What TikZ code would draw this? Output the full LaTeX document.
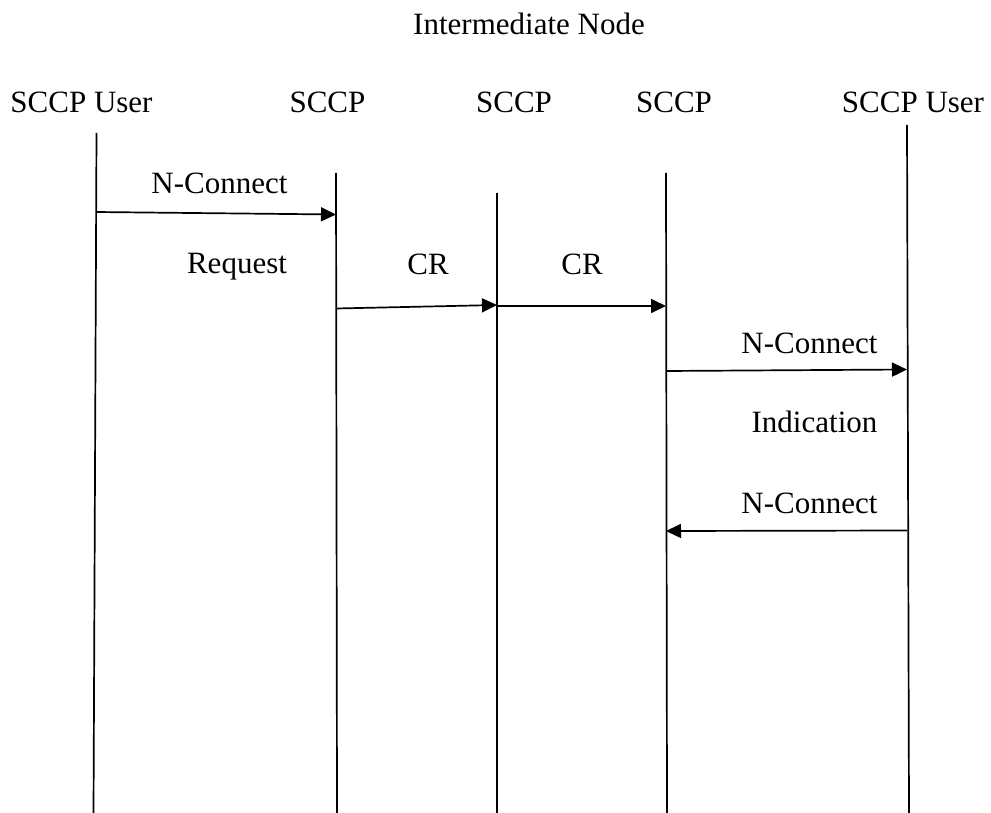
\documentclass[tikz,border=0pt]{standalone}
\usepackage{fontspec}
\setmainfont{Liberation Serif}
\usetikzlibrary{arrows.meta}
\begin{document}
\begin{tikzpicture}[x=1pt,y=-1pt,
  lbl/.style={inner sep=0pt,anchor=base,font=\fontsize{31}{31}\selectfont},
  lifeline/.style={line width=1.7pt},
  msg/.style={line width=1.7pt,-{Triangle[length=15pt,width=14pt]}}]
\useasboundingbox (0,0) rectangle (991,813);

% headings
\node[lbl] (inter) at (529,35) {Intermediate Node};
\node[lbl] (hu1) at (81.5,113) {SCCP User};
\node[lbl] (hs1) at (327.5,113) {SCCP};
\node[lbl] (hs2) at (514,113) {SCCP};
\node[lbl] (hs3) at (674,113) {SCCP};
\node[lbl] (hu2) at (913,113) {SCCP User};

% lifelines
\coordinate (l1t) at (96.5,133); \coordinate (l1b) at (93.5,813);
\coordinate (l2t) at (336,173);  \coordinate (l2b) at (337,813);
\coordinate (l3t) at (497,193);  \coordinate (l3b) at (497,813);
\coordinate (l4t) at (666,173);  \coordinate (l4b) at (667,813);
\coordinate (l5t) at (907,125);  \coordinate (l5b) at (909,813);
\draw[lifeline] (l1t) -- (l1b);
\draw[lifeline] (l2t) -- (l2b);
\draw[lifeline] (l3t) -- (l3b);
\draw[lifeline] (l4t) -- (l4b);
\draw[lifeline] (l5t) -- (l5b);

% message end points
\coordinate (m1s) at (96,212);  \coordinate (m1e) at (336,214.5);
\coordinate (m2s) at (336,308.5); \coordinate (m2e) at (497,305);
\coordinate (m3s) at (497,306); \coordinate (m3e) at (666,306);
\coordinate (m4s) at (666,371); \coordinate (m4e) at (907,369.5);
\coordinate (m5s) at (907,530.5); \coordinate (m5e) at (666,531);

% messages
\draw[msg] (m1s) -- (m1e);
\draw[msg] (m2s) -- (m2e);
\draw[msg] (m3s) -- (m3e);
\draw[msg] (m4s) -- (m4e);
\draw[msg] (m5s) -- (m5e);

% message labels
\node[lbl] (t1) at (219.5,194) {N-Connect};
\node[lbl] (t2) at (237,273) {Request};
\node[lbl] (t3) at (428,274) {CR};
\node[lbl] (t4) at (582,274) {CR};
\node[lbl] (t5) at (809.5,353) {N-Connect};
\node[lbl] (t6) at (814.5,432) {Indication};
\node[lbl] (t7) at (809.5,513) {N-Connect};
\end{tikzpicture}
\end{document}
